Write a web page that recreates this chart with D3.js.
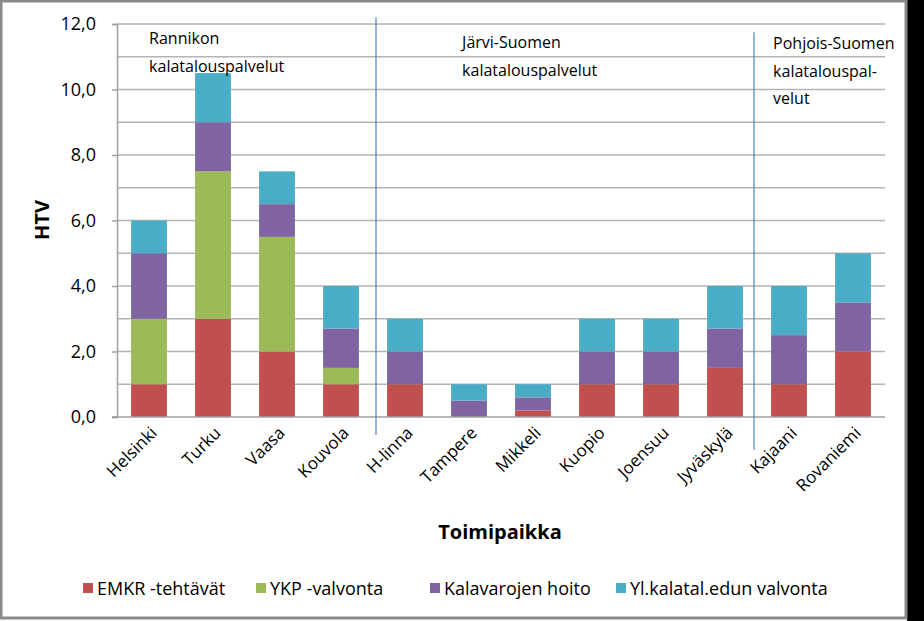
<!DOCTYPE html>
<html>
<head>
<meta charset="utf-8">
<script src="https://cdn.jsdelivr.net/npm/d3@7"></script>
<style>
  body { margin: 0; background: #fff; }
  text { font-family: "Open Sans", "Noto Sans", sans-serif; fill: #000; }
</style>
</head>
<body>
<svg width="924" height="621"></svg>
<script>
// data
var places = ["Helsinki", "Turku", "Vaasa", "Kouvola", "H-linna", "Tampere", "Mikkeli", "Kuopio", "Joensuu", "Jyväskylä", "Kajaani", "Rovaniemi"];
var emkr   = [1.0, 3.0, 2.0, 1.0, 1.0, 0.0, 0.2, 1.0, 1.0, 1.5, 1.0, 2.0];
var ykp    = [2.0, 4.5, 3.5, 0.5, 0.0, 0.0, 0.0, 0.0, 0.0, 0.0, 0.0, 0.0];
var kala   = [2.0, 1.5, 1.0, 1.2, 1.0, 0.5, 0.4, 1.0, 1.0, 1.2, 1.5, 1.5];
var ylkal  = [1.0, 1.5, 1.0, 1.3, 1.0, 0.5, 0.4, 1.0, 1.0, 1.3, 1.5, 1.5];
var seriesNames = ["EMKR -tehtävät", "YKP -valvonta", "Kalavarojen hoito", "Yl.kalatal.edun valvonta"];
var colors = ["#c0504d", "#9bbb59", "#8064a2", "#4bacc6"];
var yTicks = [0, 2, 4, 6, 8, 10, 12];
var regions = [
  {lines: ["Rannikon", "kalatalouspalvelut"], first: "Helsinki"},
  {lines: ["Järvi-Suomen", "kalatalouspalvelut"], first: "H-linna"},
  {lines: ["Pohjois-Suomen", "kalatalouspal-", "velut"], first: "Kajaani"}
];
var dividers = ["H-linna", "Kajaani"];

function main() {
  var svg = d3.select("svg");
  var left = 117, right = 885, top = 24, bottom = 417;

  var xScale = d3.scaleBand().domain(places).range([left, right]).paddingInner(0.44).paddingOuter(0.22);
  var yScale = d3.scaleLinear().domain([0, 12]).range([bottom, top]);
  var fmt = function(d) { return d3.format(".1f")(d).replace(".", ","); };

  // frame
  svg.append("rect").attr("x", 0).attr("y", 0).attr("width", 924).attr("height", 621).attr("fill", "#fff");
  svg.append("rect").attr("x", 907).attr("y", 0).attr("width", 17).attr("height", 621).attr("fill", "#000");
  svg.append("rect").attr("x", 1).attr("y", 1).attr("width", 905).attr("height", 617)
    .attr("fill", "none").attr("stroke", "#8a8a8a").attr("stroke-width", 3);

  // gridlines every 1.0
  svg.append("g").selectAll("line")
    .data(d3.range(1, 13))
    .enter().append("line")
    .attr("x1", left).attr("x2", right)
    .attr("y1", function(d) { return yScale(d); })
    .attr("y2", function(d) { return yScale(d); })
    .attr("stroke", "#b4b4b4").attr("stroke-width", 1.5);

  // y axis
  var yaxis = svg.append("g")
    .attr("transform", "translate(" + left + ",0)")
    .call(d3.axisLeft(yScale).tickValues(yTicks).tickFormat(fmt).tickSize(5).tickPadding(16));
  yaxis.select(".domain").attr("stroke", "#a0a0a0").attr("stroke-width", 1.5);
  yaxis.selectAll(".tick line").attr("stroke", "#a0a0a0").attr("stroke-width", 1.5);
  yaxis.selectAll(".tick text").attr("font-size", "18px").attr("fill", "#000")
    .style("font-family", "'Open Sans', sans-serif");

  // stacked bars
  var rows = places.map(function(p, i) {
    return {place: p, s0: emkr[i], s1: ykp[i], s2: kala[i], s3: ylkal[i]};
  });
  var stack = d3.stack().keys(["s0", "s1", "s2", "s3"])(rows);
  svg.append("g").selectAll("g")
    .data(stack)
    .enter().append("g")
    .attr("fill", function(d, i) { return colors[i]; })
    .selectAll("rect")
    .data(function(d) { return d; })
    .enter().append("rect")
    .attr("x", function(d) { return xScale(d.data.place); })
    .attr("y", function(d) { return yScale(d[1]); })
    .attr("width", xScale.bandwidth())
    .attr("height", function(d) { return yScale(d[0]) - yScale(d[1]); });

  // x axis line
  svg.append("line")
    .attr("x1", left - 5).attr("x2", right)
    .attr("y1", bottom).attr("y2", bottom)
    .attr("stroke", "#a0a0a0").attr("stroke-width", 1.5);

  // x labels
  svg.append("g").selectAll("text")
    .data(places)
    .enter().append("text")
    .attr("transform", function(d) {
      return "translate(" + (xScale(d) + xScale.bandwidth() / 2 + 9) + "," + (bottom + 17) + ") rotate(-45)";
    })
    .attr("text-anchor", "end")
    .attr("font-size", "17px")
    .text(function(d) { return d; });

  // region dividers
  var step = xScale.step();
  var divTop = [12.2, 11.75], divBot = [-0.55, -1.0];
  svg.append("g").selectAll("line")
    .data(dividers)
    .enter().append("line")
    .attr("x1", function(d, i) { return xScale(d) - (step - xScale.bandwidth()) / 2 + (i == 0 ? 3 : -3); })
    .attr("x2", function(d, i) { return xScale(d) - (step - xScale.bandwidth()) / 2 + (i == 0 ? 3 : -3); })
    .attr("y1", function(d, i) { return yScale(divTop[i]); })
    .attr("y2", function(d, i) { return yScale(divBot[i]); })
    .attr("stroke", "#4f81bd").attr("stroke-width", 1.2);

  // region labels
  var regionX = [18, 75, 2];
  var regionY = [44, 48, 49];
  regions.forEach(function(r, i) {
    var t = svg.append("text")
      .attr("x", xScale(r.first) + regionX[i])
      .attr("y", regionY[i])
      .attr("font-size", "16px");
    r.lines.forEach(function(l, j) {
      t.append("tspan").attr("x", xScale(r.first) + regionX[i]).attr("dy", j == 0 ? 0 : 27.5).text(l);
    });
  });

  // axis titles
  svg.append("text")
    .attr("transform", "translate(49,220) rotate(-90)")
    .attr("text-anchor", "middle")
    .attr("font-size", "20px").attr("font-weight", "bold")
    .text("HTV");
  svg.append("text")
    .attr("x", 500).attr("y", 539)
    .attr("text-anchor", "middle")
    .attr("font-size", "20px").attr("font-weight", "bold")
    .text("Toimipaikka");

  // legend
  var legX = [83, 256, 430, 616];
  var leg = svg.append("g").selectAll("g")
    .data(seriesNames)
    .enter().append("g")
    .attr("transform", function(d, i) { return "translate(" + legX[i] + ",583)"; });
  leg.append("rect").attr("width", 10).attr("height", 10)
    .attr("fill", function(d, i) { return colors[i]; });
  leg.append("text").attr("x", 14).attr("y", 11.5).attr("font-size", "18px")
    .text(function(d) { return d; });
}
main();
</script>
</body>
</html>
